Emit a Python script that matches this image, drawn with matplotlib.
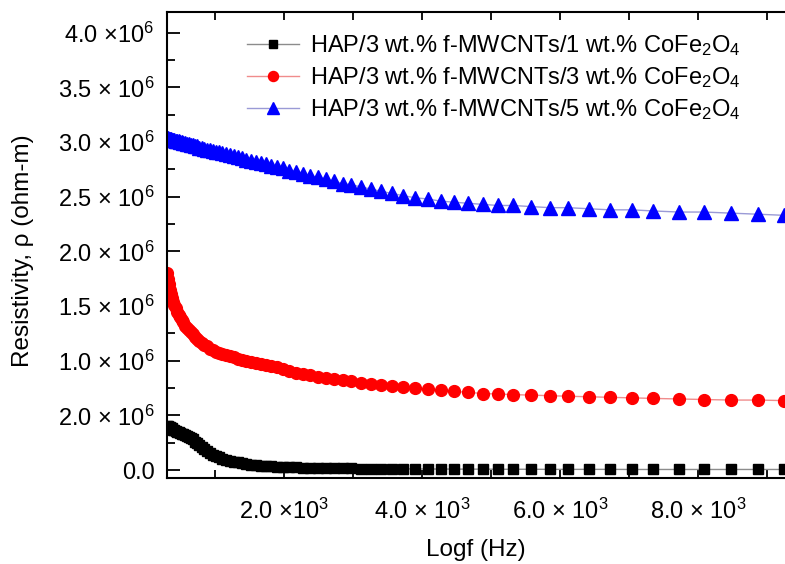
import matplotlib
matplotlib.use("Agg")
import matplotlib.pyplot as plt
from matplotlib.ticker import FixedLocator

plt.rcParams['font.family'] = ['Liberation Sans', 'DejaVu Sans']
plt.rcParams['mathtext.fontset'] = 'custom'
plt.rcParams['mathtext.rm'] = 'Liberation Sans'
plt.rcParams['mathtext.it'] = 'Liberation Sans:italic'
plt.rcParams['mathtext.bf'] = 'Liberation Sans:bold'

# frequency (Hz)
freq = [301, 315, 329, 344, 360, 376, 394, 412, 431, 451,
        471, 493, 516, 540, 564, 590, 617, 646, 676, 707,
        739, 773, 809, 846, 885, 925, 968, 1013, 1059, 1108,
        1159, 1212, 1268, 1326, 1387, 1451, 1517, 1587, 1660, 1737,
        1816, 1900, 1987, 2079, 2174, 2274, 2379, 2488, 2603, 2722,
        2848, 2978, 3115, 3259, 3409, 3565, 3729, 3901, 4080, 4268,
        4464, 4669, 4884, 5101, 5319, 5580, 5855, 6116, 6420, 6725,
        7043, 7348, 7725, 8087, 8478, 8870, 9246]

# resistivity (x 1e6 ohm-m)
rho_1wt = [0.40, 0.40, 0.39, 0.39, 0.38, 0.38, 0.37, 0.37, 0.36, 0.35,
           0.35, 0.34, 0.33, 0.33, 0.32, 0.31, 0.30, 0.29, 0.28, 0.26,
           0.25, 0.23, 0.21, 0.19, 0.17, 0.16, 0.14, 0.13, 0.12, 0.10,
           0.09, 0.085, 0.075, 0.07, 0.06, 0.055, 0.05, 0.045, 0.04, 0.037,
           0.034, 0.031, 0.028, 0.026, 0.024, 0.022, 0.02, 0.018, 0.017, 0.016,
           0.015, 0.014, 0.013, 0.012, 0.011, 0.011, 0.010, 0.010, 0.009, 0.009,
           0.008, 0.008, 0.008, 0.007, 0.007, 0.007, 0.006, 0.006, 0.006, 0.006,
           0.005, 0.005, 0.005, 0.005, 0.005, 0.005, 0.005]
rho_3wt = [1.80, 1.75, 1.70, 1.65, 1.61, 1.57, 1.54, 1.51, 1.48, 1.45,
           1.42, 1.40, 1.37, 1.35, 1.32, 1.30, 1.28, 1.26, 1.24, 1.22,
           1.20, 1.18, 1.16, 1.14, 1.13, 1.11, 1.10, 1.08, 1.07, 1.06,
           1.05, 1.04, 1.03, 1.02, 1.01, 1.00, 0.99, 0.98, 0.97, 0.96,
           0.95, 0.94, 0.92, 0.91, 0.89, 0.88, 0.87, 0.85, 0.84, 0.83,
           0.82, 0.81, 0.80, 0.79, 0.78, 0.77, 0.76, 0.75, 0.74, 0.73,
           0.72, 0.71, 0.70, 0.695, 0.69, 0.685, 0.68, 0.675, 0.67, 0.665,
           0.66, 0.655, 0.65, 0.645, 0.64, 0.64, 0.635]
rho_5wt = [3.04, 3.04, 3.03, 3.03, 3.03, 3.02, 3.02, 3.02, 3.01, 3.01,
           3.01, 3.00, 3.00, 2.99, 2.99, 2.98, 2.98, 2.97, 2.97, 2.96,
           2.96, 2.95, 2.95, 2.94, 2.93, 2.93, 2.92, 2.91, 2.91, 2.90,
           2.89, 2.88, 2.87, 2.86, 2.85, 2.84, 2.83, 2.82, 2.81, 2.80,
           2.78, 2.77, 2.76, 2.74, 2.73, 2.71, 2.69, 2.68, 2.66, 2.64,
           2.62, 2.61, 2.59, 2.57, 2.55, 2.53, 2.51, 2.49, 2.48, 2.46,
           2.45, 2.44, 2.43, 2.42, 2.42, 2.41, 2.40, 2.40, 2.39, 2.38,
           2.38, 2.37, 2.36, 2.36, 2.35, 2.34, 2.33]

series_labels = [r"HAP/3 wt.% f-MWCNTs/1 wt.% CoFe$_2$O$_4$",
                 r"HAP/3 wt.% f-MWCNTs/3 wt.% CoFe$_2$O$_4$",
                 r"HAP/3 wt.% f-MWCNTs/5 wt.% CoFe$_2$O$_4$"]

x_ticks = [2000, 4000, 6000, 8000]
x_tick_labels = [r"2.0 ×10$^3$", r"4.0 × 10$^3$", r"6.0 × 10$^3$", r"8.0 × 10$^3$"]
y_ticks = [0.0, 0.5e6, 1.0e6, 1.5e6, 2.0e6, 2.5e6, 3.0e6, 3.5e6, 4.0e6]
y_tick_labels = ["0.0", r"2.0 × 10$^6$", r"1.0 × 10$^6$", r"1.5 × 10$^6$",
                 r"2.0 × 10$^6$", r"2.5 × 10$^6$", r"3.0 × 10$^6$",
                 r"3.5 × 10$^6$", r"4.0 ×10$^6$"]

fig = plt.figure(figsize=(7.85, 5.64), dpi=100)
ax = fig.add_axes([167/785, 1 - 478/564, 618/785, 466/564])

scale = 1e6
ax.plot(freq, [v * scale for v in rho_1wt], color='#8c8c8c', lw=1.0,
        marker='s', ms=7.5, mfc='black', mec='black', label=series_labels[0])
ax.plot(freq, [v * scale for v in rho_3wt], color='#f08c8c', lw=1.0,
        marker='o', ms=8.5, mfc='#ff0000', mec='#ff0000', label=series_labels[1])
ax.plot(freq, [v * scale for v in rho_5wt], color='#9a9ad6', lw=1.0,
        marker='^', ms=10, mfc='#0000ff', mec='#0000ff', label=series_labels[2])

ax.set_xlim(304, 9261)
ax.set_ylim(-0.073e6, 4.19e6)

ax.xaxis.set_major_locator(FixedLocator(x_ticks))
ax.xaxis.set_minor_locator(FixedLocator([1000, 3000, 5000, 7000, 9000]))
ax.set_xticklabels(x_tick_labels)
ax.yaxis.set_major_locator(FixedLocator(y_ticks))
ax.yaxis.set_minor_locator(FixedLocator([0.25e6, 0.75e6, 1.25e6, 1.75e6, 2.25e6,
                                         2.75e6, 3.25e6, 3.75e6]))
ax.set_yticklabels(y_tick_labels)

ax.tick_params(axis='both', which='both', direction='in', width=1.3, top=True,
               right=False, labelsize=17)
ax.tick_params(axis='x', which='both', length=6, pad=15)
ax.tick_params(axis='y', which='major', length=9, pad=9)
ax.tick_params(axis='y', which='minor', length=6)
for s in ['left', 'bottom', 'top']:
    ax.spines[s].set_linewidth(1.5)
ax.spines['right'].set_visible(False)

fig.text(476/785, 1 - 550/564, "Logf (Hz)", ha='center', va='center', fontsize=17.5)
fig.text(23/785, 1 - 251/564, "Resistivity, ρ (ohm-m)", ha='center', va='center',
         rotation=90, fontsize=17.5)

leg = ax.legend(loc='upper left', bbox_to_anchor=(0.13, 0.955), frameon=False,
                fontsize=17, handlelength=2.2, handletextpad=0.45,
                labelspacing=0.3, borderaxespad=0, borderpad=0, markerscale=0.85)

fig.savefig("out.png", dpi=100)
